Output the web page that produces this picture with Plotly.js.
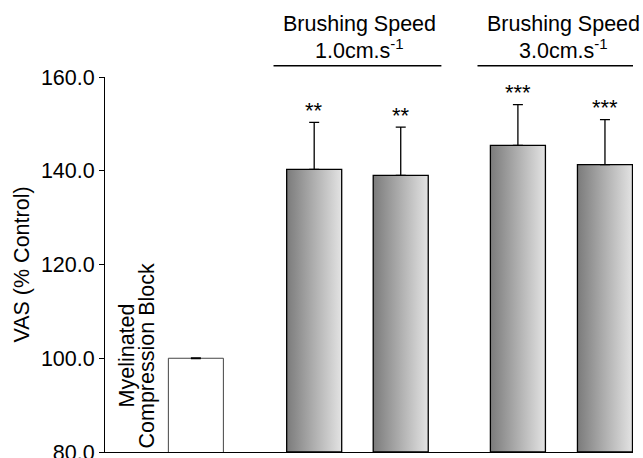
<!DOCTYPE html>
<html><head><meta charset="utf-8">
<script src="https://cdn.plot.ly/plotly-3.0.1.min.js"></script>
<style>html,body{margin:0;padding:0;background:#fff}#chart{width:643px;height:458px}</style>
</head><body><div id="chart"></div>
<script>
// ---- data ----
const categories = ['Myelinated Compression Block', 'Brushing 1.0 cm/s (a)', 'Brushing 1.0 cm/s (b)', 'Brushing 3.0 cm/s (a)', 'Brushing 3.0 cm/s (b)'];
const vasValues = [100.0, 140.3, 139.0, 145.4, 141.3];
const vasErrors = [0.0, 10.0, 10.3, 8.7, 9.6];
const significance = ['', '**', '**', '***', '***'];
const yTickValues = [80, 100, 120, 140, 160];
const yTickLabels = ['80.0', '100.0', '120.0', '140.0', '160.0'];
const groupLabels = ['Brushing Speed', 'Brushing Speed'];
const groupSpeeds = ['1.0cm.s<sup>-1</sup>', '3.0cm.s<sup>-1</sup>'];

// ---- layout constants ----
const xPos = [0, 1.363, 2.36, 3.71, 4.713];
const barW = 0.634;
const yMin = 80, yMax = 160;
const FONT = 'Liberation Sans, Arial, Helvetica, sans-serif';
const FS = 21.5;

const traces = [];
// control (white) bar
traces.push({
  type: 'bar', x: [xPos[0]], y: [vasValues[0]], width: barW,
  marker: {color: '#ffffff', line: {color: '#444', width: 1}},
  error_y: {type: 'data', symmetric: false, array: [vasErrors[0]], arrayminus: [0], width: 5, thickness: 2.2, color: '#000'},
  hoverinfo: 'x+y', showlegend: false, name: categories[0]
});
// gradient bars
for (let i = 1; i < vasValues.length; i++) {
  const x0 = xPos[i] - barW / 2, x1 = xPos[i] + barW / 2, v = vasValues[i];
  traces.push({
    type: 'scatter', mode: 'lines', name: categories[i],
    x: [x0, x0, x1, x1, x0], y: [yMin, v, v, yMin, yMin],
    fill: 'toself',
    fillgradient: {type: 'horizontal', colorscale: [[0, '#7b7b7b'], [1, '#e3e3e3']]},
    line: {color: '#000', width: 1.3},
    showlegend: false, hoverinfo: 'skip'
  });
}
// error bars for gradient bars
traces.push({
  type: 'scatter', mode: 'markers',
  x: xPos.slice(1), y: vasValues.slice(1),
  marker: {size: 1, color: 'rgba(0,0,0,0)'},
  error_y: {type: 'data', symmetric: false, array: vasErrors.slice(1), arrayminus: [0, 0, 0, 0], width: 5, thickness: 1.3, color: '#000'},
  showlegend: false
});

const annotations = [];
for (let i = 1; i < vasValues.length; i++) {
  annotations.push({
    x: xPos[i], y: vasValues[i] + vasErrors[i], xref: 'x', yref: 'y',
    text: significance[i], showarrow: false, yanchor: 'middle', yshift: 12,
    font: {family: FONT, size: 22, color: '#000'}
  });
}
// control-bar label (rotated, two lines)
annotations.push({
  x: xPos[0] - 0.68, y: 0.257, xref: 'x', yref: 'paper', text: 'Myelinated', textangle: -90,
  showarrow: false, xanchor: 'center', yanchor: 'middle', xshift: -10,
  font: {family: FONT, size: FS, color: '#000'}
});
annotations.push({
  x: xPos[0] - 0.68, y: 0.257, xref: 'x', yref: 'paper', text: 'Compression Block', textangle: -90,
  showarrow: false, xanchor: 'center', yanchor: 'middle', xshift: 10,
  font: {family: FONT, size: FS, color: '#000'}
});
// group headers
const groupMid = [(xPos[1] + xPos[2]) / 2, (xPos[3] + xPos[4]) / 2];
const shapes = [];
for (let g = 0; g < 2; g++) {
  annotations.push({
    x: groupMid[g], y: 1, xref: 'x', yref: 'paper', text: groupLabels[g],
    showarrow: false, xanchor: 'center', yanchor: 'middle', yshift: 53, xshift: 2,
    font: {family: FONT, size: FS, color: '#000'}
  });
  annotations.push({
    x: groupMid[g], y: 1, xref: 'x', yref: 'paper', text: groupSpeeds[g],
    showarrow: false, xanchor: 'center', yanchor: 'middle', yshift: 28, xshift: 2,
    font: {family: FONT, size: FS, color: '#000'}
  });
  shapes.push({
    type: 'line', xref: 'x', yref: 'paper',
    x0: groupMid[g] - 0.967, x1: groupMid[g] + 0.967, y0: 1.03, y1: 1.03,
    line: {color: '#000', width: 1.5}
  });
}

const layout = {
  width: 643, height: 458,
  margin: {l: 105, r: 10, t: 77, b: 6},
  paper_bgcolor: '#fff', plot_bgcolor: '#fff',
  showlegend: false,
  font: {family: FONT, color: '#000'},
  xaxis: {
    range: [-1.047, 5.036], showticklabels: false, ticks: '', showgrid: false, zeroline: false,
    showline: true, linecolor: '#000', linewidth: 1, fixedrange: true
  },
  yaxis: {
    range: [yMin, yMax], tickvals: yTickValues, ticktext: yTickLabels,
    ticks: 'outside', ticklen: 5, tickwidth: 1, tickcolor: '#000',
    ticklabeloverflow: 'allow',
    showline: true, linecolor: '#000', linewidth: 1, showgrid: false, zeroline: false,
    tickfont: {family: FONT, size: FS, color: '#000'},
    title: {text: 'VAS (% Control)', font: {family: FONT, size: FS, color: '#000'}, standoff: 5}
  },
  annotations: annotations,
  shapes: shapes
};

Plotly.newPlot('chart', traces, layout, {displayModeBar: false, staticPlot: true});
</script>
</body></html>
